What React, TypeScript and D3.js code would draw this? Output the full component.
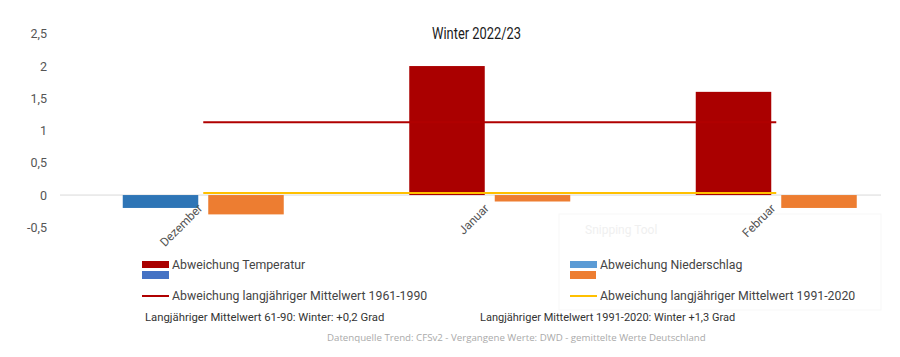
import React from "react";
import * as d3 from "d3";

const categories = ["Dezember", "Januar", "Februar"];
const temperatur = [-0.2, 2.0, 1.6];
const niederschlag = [-0.3, -0.1, -0.2];
const mittel6190 = [1.13, 1.13, 1.13];
const mittel9120 = [0.03, 0.03, 0.03];
const yTicks = [-0.5, 0, 0.5, 1, 1.5, 2, 2.5];
const title = "Winter 2022/23";
const legendTemp = "Abweichung Temperatur";
const legendNied = "Abweichung Niederschlag";
const legend6190 = "Abweichung langjähriger Mittelwert 1961-1990";
const legend9120 = "Abweichung langjähriger Mittelwert 1991-2020";
const note6190 = "Langjähriger Mittelwert 61-90: Winter: +0,2 Grad";
const note9120 = "Langjähriger Mittelwert 1991-2020: Winter +1,3 Grad";
const source = "Datenquelle Trend: CFSv2 - Vergangene Werte: DWD - gemittelte Werte Deutschland";

const W = 900;
const H = 357;
const font = "Roboto, 'Noto Sans', sans-serif";

export default function App() {
  const x = d3.scaleBand<string>().domain(categories).range([60, 919.5]).padding(0);
  const y = d3.scaleLinear().domain([-0.5, 2.5]).range([227.3, 33.8]);
  const center = (c: string) => (x(c) as number) + x.bandwidth() / 2;
  const barW = 75.5;
  const gap = 10;
  const fmt = (v: number) => String(v).replace(".", ",");
  const line = d3
    .line<number>()
    .x((_, i) => center(categories[i]))
    .y((v) => y(v));

  return (
    <svg width={W} height={H} style={{ position: "absolute", left: 0, top: 0, background: "#fff" }}>
      <rect x={0} y={0} width={W} height={H} fill="#fff" />
      {/* faint ghost panel */}
      <rect x={559} y={214} width={322} height={96} fill="none" stroke="#f7f7f7" strokeWidth={1} />
      <text x={585} y={234} fontFamily={font} fontSize={12} fill="#f0f0f0">Snipping Tool</text>

      <text
        x={432}
        y={39}
        textLength={89}
        lengthAdjust="spacingAndGlyphs"
        fontFamily={font}
        fontSize={16.5}
        fontWeight={400}
        fill="#1a1a1a"
      >
        {title}
      </text>

      {yTicks.map((t) => (
        <text key={t} x={47} y={y(t) + 4.5} textAnchor="end" fontFamily={font} fontSize={12.5} fill="#555">
          {fmt(t)}
        </text>
      ))}

      <line x1={60} x2={881} y1={y(0)} y2={y(0)} stroke="#d9d9d9" strokeWidth={1} />

      {categories.map((c, i) => {
        const cx = center(c);
        const t = temperatur[i];
        const n = niederschlag[i];
        return (
          <g key={c}>
            <rect
              x={cx - gap / 2 - barW}
              y={Math.min(y(t), y(0))}
              width={barW}
              height={Math.abs(y(t) - y(0))}
              fill={t >= 0 ? "#aa0000" : "#2e75b6"}
            />
            <rect
              x={cx + gap / 2}
              y={Math.min(y(n), y(0))}
              width={barW}
              height={Math.abs(y(n) - y(0))}
              fill="#ed7d31"
            />
            <text
              transform={`translate(${cx},${y(0) + 14}) rotate(-45)`}
              textAnchor="end"
              fontFamily={font}
              fontSize={12}
              fill="#555"
            >
              {c}
            </text>
          </g>
        );
      })}

      <path d={line(mittel6190) as string} fill="none" stroke="#b00000" strokeWidth={2} />
      <path d={line(mittel9120) as string} fill="none" stroke="#ffc000" strokeWidth={2} />

      {/* legend */}
      <rect x={142} y={261} width={27} height={7} fill="#aa0000" />
      <rect x={142} y={271} width={27} height={8} fill="#4472c4" />
      <text x={172} y={269} fontFamily={font} fontSize={12.3} fill="#444">{legendTemp}</text>
      <rect x={570} y={261} width={27} height={7} fill="#5b9bd5" />
      <rect x={570} y={271} width={26} height={8} fill="#ed7d31" />
      <text x={600} y={269} fontFamily={font} fontSize={12.3} fill="#444">{legendNied}</text>

      <line x1={142} x2={169} y1={296} y2={296} stroke="#b00000" strokeWidth={2} />
      <text x={172} y={300} fontFamily={font} fontSize={12.3} fill="#444">{legend6190}</text>
      <line x1={570} x2={597} y1={296} y2={296} stroke="#ffc000" strokeWidth={2} />
      <text x={600} y={300} fontFamily={font} fontSize={12.3} fill="#444">{legend9120}</text>

      <text x={145} y={321} fontFamily={font} fontSize={11.3} fill="#333">{note6190}</text>
      <text x={480} y={321} fontFamily={font} fontSize={11} fill="#333">{note9120}</text>
      <text x={327} y={341} fontFamily="'Open Sans', sans-serif" fontSize={9.7} fill="#aaa">{source}</text>
    </svg>
  );
}
